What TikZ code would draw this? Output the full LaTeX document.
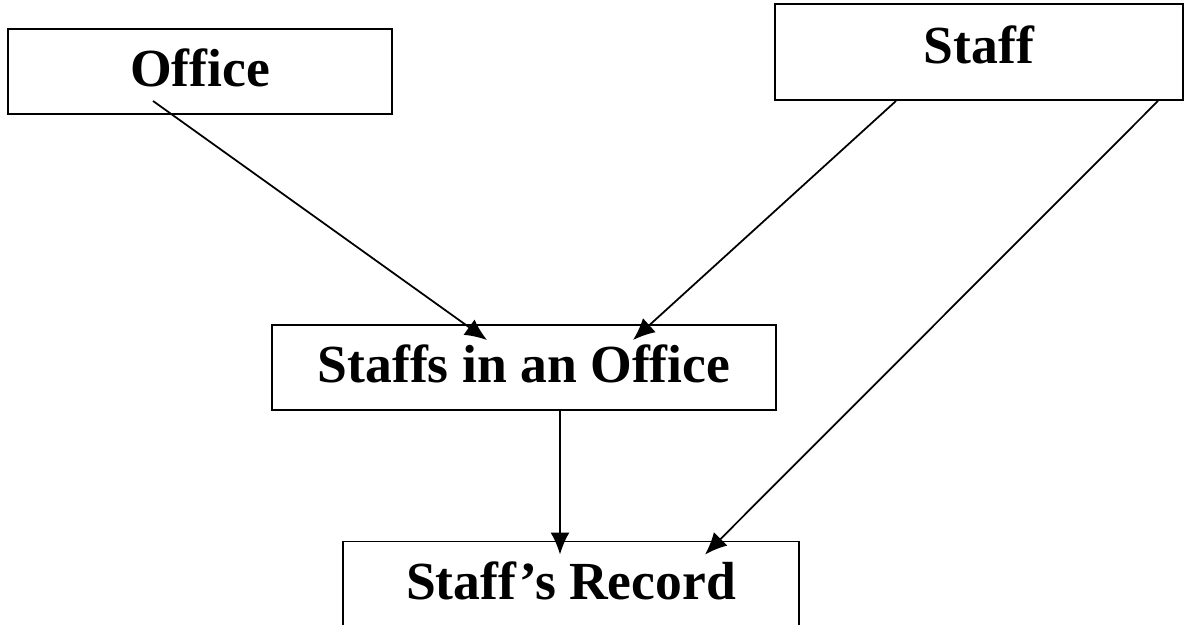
\documentclass[tikz,border=0pt]{standalone}
\usepackage{fontspec}
\setmainfont{Liberation Serif}
\usetikzlibrary{arrows.meta,positioning,calc}
\tikzset{
  entity/.style={draw=black, line width=1.1pt, minimum height=1.7cm,
    inner sep=0pt, text depth=0.14cm, font=\fontsize{30.5}{34}\selectfont\bfseries},
  link/.style={->, line width=1pt}
}
\begin{document}
\begin{tikzpicture}[>={Latex[length=4.4mm,width=3.8mm]}]
        \useasboundingbox (0,0) rectangle (23.72,-12.5);

        \node [entity, minimum width=7.68cm] (office) at (4.0,-1.43) {Office};
        \node [entity, minimum width=8.16cm, minimum height=1.92cm, text depth=0.3cm] (staff) at (19.58,-1.04) {Staff};
        \node [entity, minimum width=10.08cm] (staffs) at (10.48,-7.35) {Staffs in an Office};
        \node [entity, minimum width=9.12cm] (record) at (11.42,-11.68) {Staff’s Record};

        % end points of the connectors
        \coordinate (o1) at ([xshift=-0.94cm,yshift=0.28cm]office.south);
        \coordinate (s1) at ([xshift=-1.66cm]staff.south);
        \coordinate (s2) at ([xshift=3.58cm]staff.south);
        \coordinate (t1) at ([xshift=-0.74cm,yshift=-0.32cm]staffs.north);
        \coordinate (t2) at ([xshift=2.18cm,yshift=-0.32cm]staffs.north);
        \coordinate (t3) at ([xshift=0.72cm]staffs.south);
        \coordinate (r1) at ([yshift=-0.28cm]record.north -| t3);
        \coordinate (r2) at ([xshift=2.68cm,yshift=-0.28cm]record.north);

        \draw [link] (o1) -- (t1);
        \draw [link] (s1) -- (t2);
        \draw [link] (s2) -- (r2);
        \draw [link] (t3) -- (r1);
\end{tikzpicture}
\end{document}
